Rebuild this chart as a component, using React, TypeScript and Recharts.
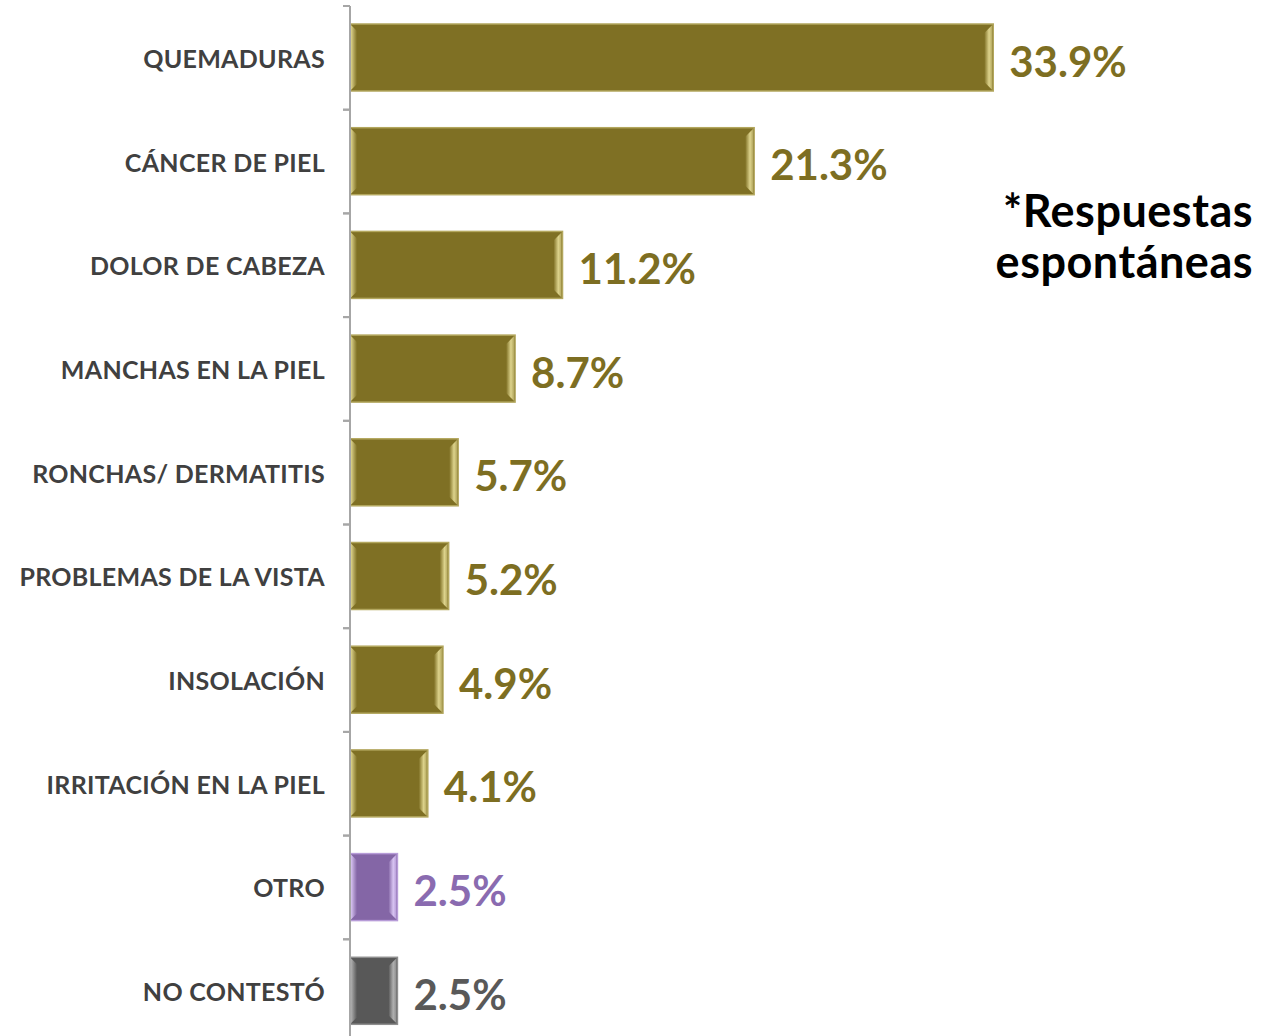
import { BarChart, Bar, XAxis, YAxis, Cell, LabelList } from "recharts";

const categories = [
  "QUEMADURAS",
  "CÁNCER DE PIEL",
  "DOLOR DE CABEZA",
  "MANCHAS EN LA PIEL",
  "RONCHAS/ DERMATITIS",
  "PROBLEMAS DE LA VISTA",
  "INSOLACIÓN",
  "IRRITACIÓN EN LA PIEL",
  "OTRO",
  "NO CONTESTÓ",
];
const values = [33.9, 21.3, 11.2, 8.7, 5.7, 5.2, 4.9, 4.1, 2.5, 2.5];
const kinds = ["main", "main", "main", "main", "main", "main", "main", "main", "other", "none"];

const palette: Record<string, { base: string; light: string; edge: string; text: string }> = {
  main: { base: "#7f7024", light: "#ddd38c", edge: "#b3a75e", text: "#7d6e22" },
  other: { base: "#8466a6", light: "#d8c4f2", edge: "#b79cd8", text: "#8a6bb0" },
  none: { base: "#585858", light: "#b0b0b0", edge: "#8e8e8e", text: "#595959" },
};

const data = categories.map((name, i) => ({ name, value: values[i], kind: kinds[i] }));

const W = 1274;
const H = 1050;
const M = { top: 6, right: 165, bottom: 7, left: 0 };
const bandHalf = (H - M.top - M.bottom) / categories.length / 2;
const font = "Lato, 'Open Sans', sans-serif";

function CatTick(props: any) {
  const { x, y, payload } = props;
  return (
    <g>
      <line x1={x - 7} x2={x} y1={y - bandHalf} y2={y - bandHalf} stroke="#a6a6a6" strokeWidth={2} />
      <line x1={x - 7} x2={x} y1={y + bandHalf} y2={y + bandHalf} stroke="#a6a6a6" strokeWidth={2} />
      <text
        x={x - 25}
        y={y}
        textAnchor="end"
        dominantBaseline="central"
        fill="#404040"
        fontFamily={font}
        fontWeight={700}
        fontSize={25}
        letterSpacing={0.3}
      >
        {payload.value}
      </text>
    </g>
  );
}

function BevelBar(props: any) {
  const { x, y, width, height, index } = props;
  if (width <= 0) return null;
  const c = palette[kinds[index]];
  const b = 9;
  const id = `bev${index}`;
  return (
    <g>
      <defs>
        <linearGradient id={id} x1="0" y1="0" x2="1" y2="0">
          <stop offset="0%" stopColor={c.base} />
          <stop offset="60%" stopColor={c.light} />
          <stop offset="100%" stopColor={c.edge} />
        </linearGradient>
        <linearGradient id={id + "l"} x1="0" y1="0" x2="1" y2="0">
          <stop offset="0%" stopColor={c.light} />
          <stop offset="100%" stopColor={c.base} />
        </linearGradient>
      </defs>
      <rect x={x} y={y} width={width} height={height} fill={c.base} stroke={c.edge} strokeWidth={1.5} />
      <polygon
        points={`${x + 1},${y + 1} ${x + 7},${y + 7} ${x + 7},${y + height - 7} ${x + 1},${y + height - 1}`}
        fill={`url(#${id}l)`}
      />
      <polygon
        points={`${x + width - 1},${y + 1} ${x + width - b},${y + b} ${x + width - b},${y + height - b} ${x + width - 1},${y + height - 1}`}
        fill={`url(#${id})`}
      />
    </g>
  );
}

function ValueLabel(props: any) {
  const { x, y, width, height, value, index } = props;
  const c = palette[kinds[index]];
  return (
    <text
      x={x + width + 16}
      y={y + height / 2 + 3}
      dominantBaseline="central"
      fill={c.text}
      fontFamily={font}
      fontWeight={700}
      fontSize={42}
    >
      {`${Number(value).toFixed(1)}%`}
    </text>
  );
}

export default function App() {
  return (
    <div
      style={{
        position: "absolute",
        left: 0,
        top: 0,
        width: W,
        height: 1036,
        overflow: "hidden",
        background: "#fff",
      }}
    >
      <div style={{ position: "absolute", left: 0, top: 0 }}>
        <BarChart width={W} height={H} data={data} layout="vertical" margin={M} barSize={67}>
          <XAxis type="number" domain={[0, 40]} hide />
          <YAxis
            type="category"
            dataKey="name"
            width={350}
            axisLine={{ stroke: "#a6a6a6", strokeWidth: 2 }}
            tickLine={false}
            tickSize={0}
            tickMargin={0}
            tick={<CatTick />}
            interval={0}
          />
          <Bar dataKey="value" isAnimationActive={false} shape={<BevelBar />}>
            {data.map((d, i) => (
              <Cell key={i} fill={palette[d.kind].base} />
            ))}
            <LabelList dataKey="value" content={<ValueLabel />} />
          </Bar>
        </BarChart>
      </div>
      <div
        style={{
          position: "absolute",
          right: 21,
          top: 185,
          textAlign: "right",
          fontFamily: font,
          fontWeight: 700,
          fontSize: 45,
          lineHeight: "51px",
          letterSpacing: 0.5,
          color: "#000",
        }}
      >
        *Respuestas
        <br />
        espontáneas
      </div>
    </div>
  );
}
